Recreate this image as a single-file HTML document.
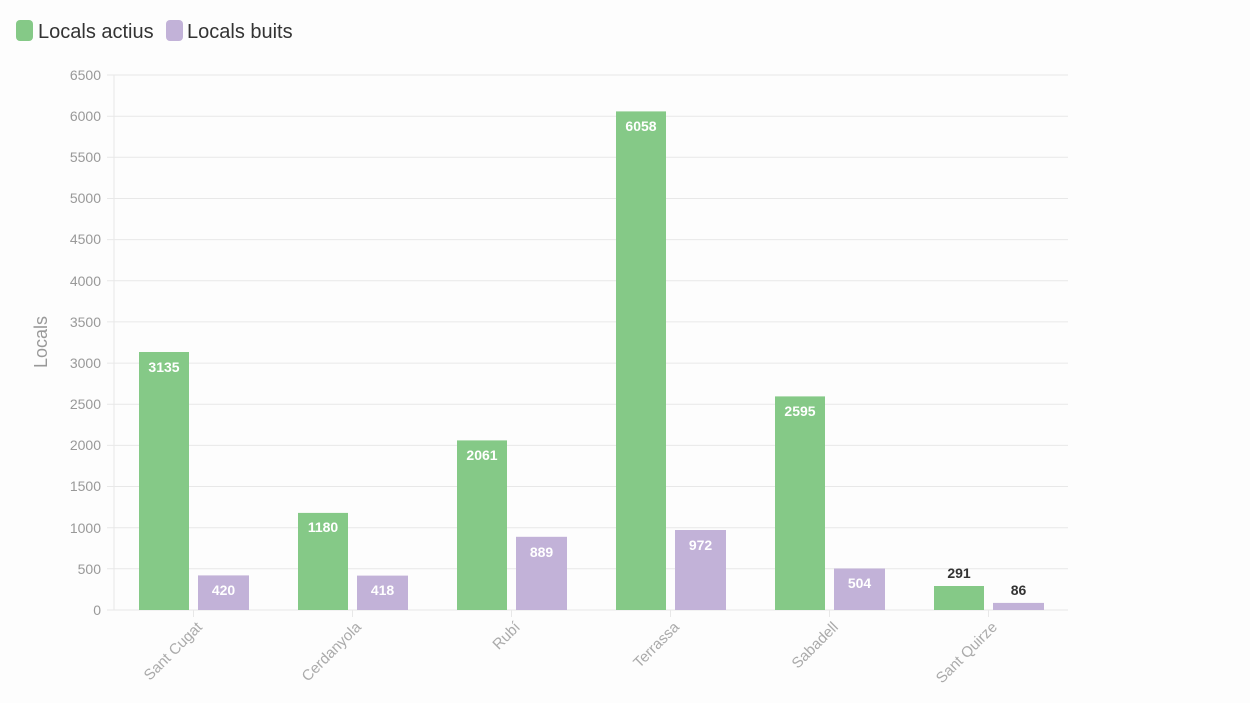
<!DOCTYPE html>
<html><head><meta charset="utf-8"><style>
html,body{margin:0;padding:0;background:#fdfdfd;}
svg{display:block;font-family:"Liberation Sans",sans-serif;}
</style></head><body>
<svg width="1250" height="703" viewBox="0 0 1250 703">
<rect width="1250" height="703" fill="#fdfdfd"/>
<rect x="16" y="20" width="17" height="21" rx="4" fill="#85c987"/>
<text x="38" y="38" font-size="20" fill="#333">Locals actius</text>
<rect x="166" y="20" width="17" height="21" rx="4" fill="#c2b2d8"/>
<text x="187" y="38" font-size="20" fill="#333">Locals buits</text>
<g stroke="#e8e8e8" stroke-width="1">
<line x1="107" x2="1068" y1="75" y2="75"/>
<line x1="107" x2="1068" y1="116.2" y2="116.2"/>
<line x1="107" x2="1068" y1="157.3" y2="157.3"/>
<line x1="107" x2="1068" y1="198.5" y2="198.5"/>
<line x1="107" x2="1068" y1="239.6" y2="239.6"/>
<line x1="107" x2="1068" y1="280.8" y2="280.8"/>
<line x1="107" x2="1068" y1="321.9" y2="321.9"/>
<line x1="107" x2="1068" y1="363.1" y2="363.1"/>
<line x1="107" x2="1068" y1="404.2" y2="404.2"/>
<line x1="107" x2="1068" y1="445.4" y2="445.4"/>
<line x1="107" x2="1068" y1="486.5" y2="486.5"/>
<line x1="107" x2="1068" y1="527.7" y2="527.7"/>
<line x1="107" x2="1068" y1="568.8" y2="568.8"/>
<line x1="107" x2="1068" y1="610" y2="610"/>
<line x1="114" x2="114" y1="75" y2="610"/>
<line x1="193.5" x2="193.5" y1="610" y2="617"/>
<line x1="352.5" x2="352.5" y1="610" y2="617"/>
<line x1="511.5" x2="511.5" y1="610" y2="617"/>
<line x1="670.5" x2="670.5" y1="610" y2="617"/>
<line x1="829.5" x2="829.5" y1="610" y2="617"/>
<line x1="988.5" x2="988.5" y1="610" y2="617"/>
</g>
<g font-size="14" fill="#999" text-anchor="end">
<text x="101" y="80">6500</text><text x="101" y="121">6000</text><text x="101" y="162">5500</text>
<text x="101" y="203">5000</text><text x="101" y="244">4500</text><text x="101" y="286">4000</text>
<text x="101" y="327">3500</text><text x="101" y="368">3000</text><text x="101" y="409">2500</text>
<text x="101" y="450">2000</text><text x="101" y="491">1500</text><text x="101" y="533">1000</text>
<text x="101" y="574">500</text><text x="101" y="615">0</text>
</g>
<text transform="translate(47,342) rotate(-90)" font-size="18" fill="#999" text-anchor="middle">Locals</text>
<g fill="#85c987">
<rect x="139" y="352" width="50" height="258"/>
<rect x="298" y="512.9" width="50" height="97.1"/>
<rect x="457" y="440.4" width="50" height="169.6"/>
<rect x="616" y="111.4" width="50" height="498.6"/>
<rect x="775" y="396.4" width="50" height="213.6"/>
<rect x="934" y="586" width="50" height="24"/>
</g>
<g fill="#c2b2d8">
<rect x="198" y="575.4" width="51" height="34.6"/>
<rect x="357" y="575.6" width="51" height="34.4"/>
<rect x="516" y="536.8" width="51" height="73.2"/>
<rect x="675" y="530" width="51" height="80"/>
<rect x="834" y="568.5" width="51" height="41.5"/>
<rect x="993" y="602.9" width="51" height="7.1"/>
</g>
<g font-size="14" font-weight="bold" fill="#fff" text-anchor="middle">
<text x="164" y="372">3135</text><text x="223.5" y="595">420</text>
<text x="323" y="532">1180</text><text x="382.5" y="595">418</text>
<text x="482" y="460">2061</text><text x="541.5" y="557">889</text>
<text x="641" y="131">6058</text><text x="700.5" y="550">972</text>
<text x="800" y="416">2595</text><text x="859.5" y="588">504</text>
</g>
<g font-size="14" font-weight="bold" fill="#333" text-anchor="middle">
<text x="959" y="578">291</text><text x="1018.5" y="595">86</text>
</g>
<g font-size="15" fill="#aaa" text-anchor="end">
<text transform="translate(203,628) rotate(-45)">Sant Cugat</text>
<text transform="translate(362,628) rotate(-45)">Cerdanyola</text>
<text transform="translate(521,628) rotate(-45)">Rubí</text>
<text transform="translate(680,628) rotate(-45)">Terrassa</text>
<text transform="translate(839,628) rotate(-45)">Sabadell</text>
<text transform="translate(998,628) rotate(-45)">Sant Quirze</text>
</g>
</svg>
</body></html>
